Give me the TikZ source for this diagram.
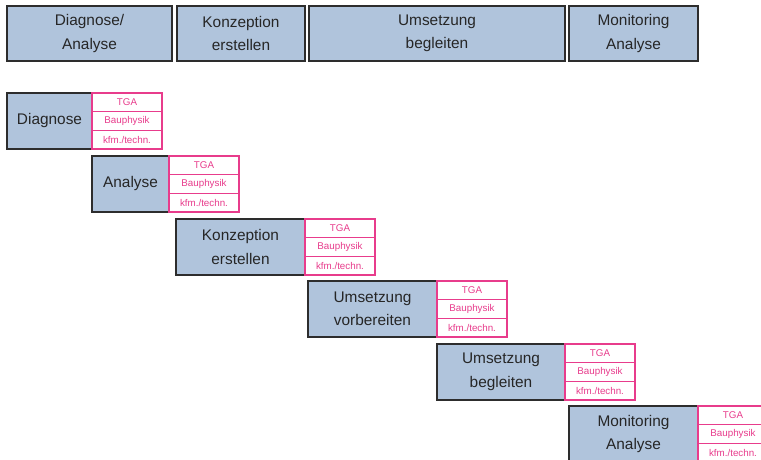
\documentclass[tikz,border=0pt]{standalone}
\usepackage{fontspec}
\setmainfont{Liberation Sans}
\usetikzlibrary{shadows}
\definecolor{phasefill}{RGB}{176,196,220}
\definecolor{phaseline}{RGB}{45,45,45}
\definecolor{tagpink}{RGB}{232,60,140}
\tikzset{
  box/.style={draw=phaseline, line width=1.2pt, fill=phasefill, anchor=north west,
    inner sep=0pt, outer sep=0pt, align=center, text=black!85,
    font=\fontsize{15.4}{23.5}\selectfont,
    drop shadow={shadow xshift=1.3pt, shadow yshift=-1.3pt, fill=black!40, opacity=0.5}},
  tag/.style={anchor=north west,
    inner sep=0pt, outer sep=0pt, minimum width=70pt, minimum height=18.67pt, text=tagpink,
    font=\fontsize{9.8}{11}\selectfont},
  tagline/.style={draw=tagpink, line width=1.1pt},
}
\begin{document}
\begin{tikzpicture}[x=1pt,y=-1pt]
  \fill[white] (0,0) rectangle (761,459);
  \useasboundingbox (0,0) rectangle (761,459);
  \clip (0,0) rectangle (761,459);
  % phase bar
  \node[box, minimum width=165pt, minimum height=55pt] (p1) at (7,6) {Diagnose/\\Analyse};
  \node[box, minimum width=128pt, minimum height=55pt] (p2) at (177,6) {Konzeption\\erstellen};
  \node[box, minimum width=256pt, minimum height=55pt] (p3) at (309,6) {Umsetzung\\begleiten};
  \node[box, minimum width=129pt, minimum height=55pt] (p4) at (569,6) {Monitoring\\Analyse};
  % staircase of steps, each with its three disciplines
  \foreach \n/\x/\y/\w/\t in {
      1/7/93/85/Diagnose,
      2/92/156/77/Analyse,
      3/176/219/129/Konzeption\\erstellen,
      4/308/281/129/Umsetzung\\vorbereiten,
      5/437/344/128/Umsetzung\\begleiten,
      6/569/406/129/Monitoring\\Analyse} {
    \node[box, minimum width=\w pt, minimum height=56pt] (s\n) at (\x,\y) {\t};
    \node[tag] (tga\n) at (s\n.north east) {TGA};
    \node[tag] (bau\n) at (tga\n.south west) {Bauphysik};
    \node[tag] (kfm\n) at (bau\n.south west) {kfm./techn.};
    \draw[tagline] (tga\n.north west) rectangle (kfm\n.south east);
    \draw[tagline] (bau\n.north west) -- (bau\n.north east);
    \draw[tagline] (kfm\n.north west) -- (kfm\n.north east);
  }
\end{tikzpicture}
\end{document}
